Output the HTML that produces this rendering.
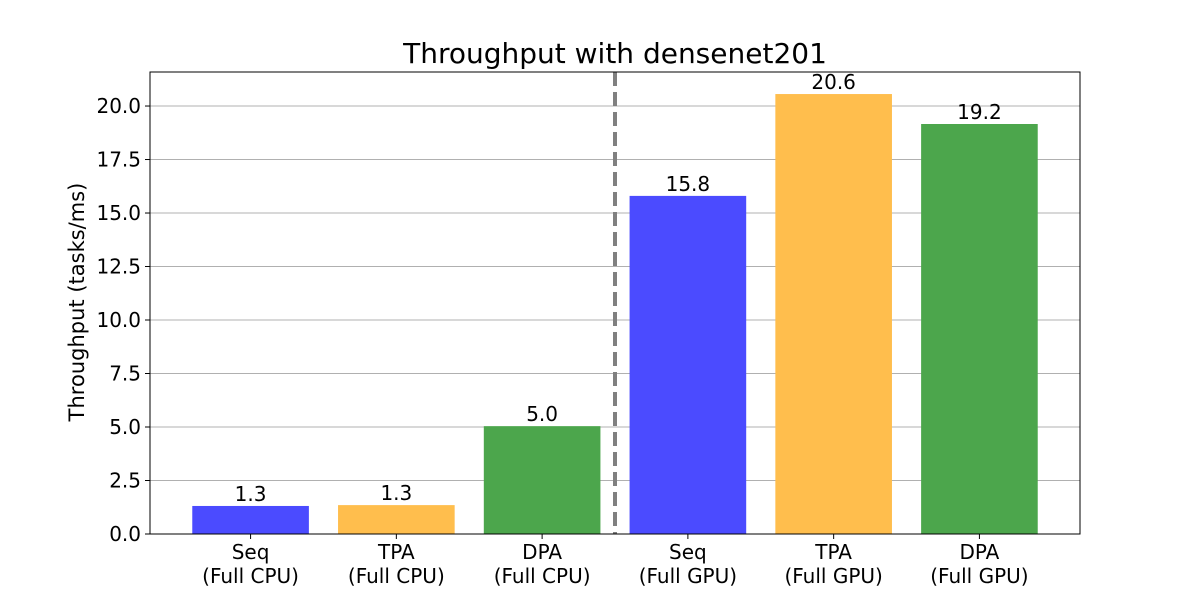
<!DOCTYPE html>
<html><head><meta charset="utf-8">
<style>
body{margin:0;background:#fff;}
svg{display:block;font-family:"DejaVu Sans","Liberation Sans",sans-serif;}
</style></head>
<body>
<svg id="chart" width="1200" height="600">
<text x="615" y="63" font-size="28" text-anchor="middle" fill="#000">Throughput with densenet201</text>
<g id="grid"></g>
<g id="bars"></g>
<g id="yticks"></g>
<g id="xticks"></g>
<text transform="translate(84,302) rotate(-90)" font-size="21" text-anchor="middle">Throughput (tasks/ms)</text>
<rect x="150" y="72" width="930" height="462" fill="none" stroke="#000" stroke-width="1"/>
</svg>
<script>
const categories = ["Seq\n(Full CPU)","TPA\n(Full CPU)","DPA\n(Full CPU)","Seq\n(Full GPU)","TPA\n(Full GPU)","DPA\n(Full GPU)"];
const values = [1.31, 1.35, 5.04, 15.8, 20.56, 19.16];
const labels = ["1.3","1.3","5.0","15.8","20.6","19.2"];
const colors = ["#4b4bff","#ffbe4d","#4ca64c","#4b4bff","#ffbe4d","#4ca64c"];
const yTicks = [0,2.5,5,7.5,10,12.5,15,17.5,20];
const yTickLabels = ["0.0","2.5","5.0","7.5","10.0","12.5","15.0","17.5","20.0"];
const dividerPos = 2.5;

const NS="http://www.w3.org/2000/svg";
const L=150,R=1080,T=72,B=534;
const yMax=21.59, xMin=-0.69, xMax=5.69;
const y=v=>B-(v/yMax)*(B-T);
const x=i=>L+(i-xMin)/(xMax-xMin)*(R-L);
const bw=0.8*(R-L)/(xMax-xMin);
function mk(tag,attrs,parent){const e=document.createElementNS(NS,tag);for(const k in attrs)e.setAttribute(k,attrs[k]);parent.appendChild(e);return e;}
const grid=document.getElementById('grid'),bars=document.getElementById('bars'),yt=document.getElementById('yticks'),xt=document.getElementById('xticks');
yTicks.forEach((v,i)=>{
  const g=mk('line',{x1:L,x2:R,y1:y(v),y2:y(v),stroke:'#b0b0b0','stroke-width':1},grid);
  
  
  const tk=mk('line',{x1:L-5,x2:L,y1:y(v),y2:y(v),stroke:'#000'},yt);
  
  
  const t=mk('text',{x:L-9,y:y(v)+7,'font-size':20,'text-anchor':'end'},yt);
  t.textContent=yTickLabels[i];
  
  
});
values.forEach((v,i)=>{
  const r=mk('rect',{x:x(i)-bw/2,y:y(v),width:bw,height:B-y(v),fill:colors[i]},bars);
  
  
  const lt=mk('text',{x:x(i),y:y(v)-5,'font-size':20,'text-anchor':'middle'},bars);
  lt.textContent=labels[i];
  
  
  const tk=mk('line',{x1:x(i),x2:x(i),y1:B,y2:B+5,stroke:'#000'},xt);
  
  
  categories[i].split('\n').forEach((line,j)=>{
    const t=mk('text',{x:x(i),y:B+25+j*24,'font-size':20,'text-anchor':'middle'},xt);
    t.textContent=line;
    
    
  });
});
const d=mk('line',{x1:x(dividerPos),x2:x(dividerPos),y1:T,y2:B,stroke:'#808080','stroke-width':4,'stroke-dasharray':'14,6'},bars);


</script>
</body></html>
